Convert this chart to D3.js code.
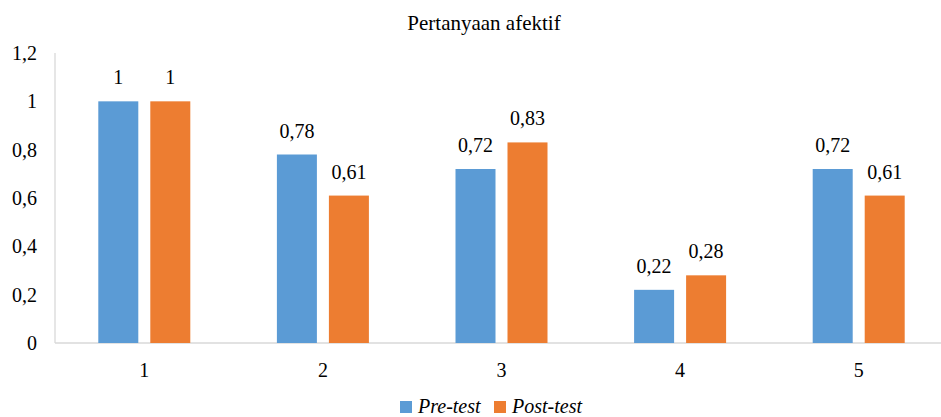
<!DOCTYPE html>
<html>
<head>
<meta charset="utf-8">
<script src="https://cdn.jsdelivr.net/npm/d3@7"></script>
<style>
  body { margin: 0; background: #fff; overflow: hidden; }
</style>
</head>
<body>
<div id="chart"></div>
<script>
const categories = ["1", "2", "3", "4", "5"];
const seriesNames = ["Pre-test", "Post-test"];
const preTest = [1, 0.78, 0.72, 0.22, 0.72];
const postTest = [1, 0.61, 0.83, 0.28, 0.61];
const yTicks = [0, 0.2, 0.4, 0.6, 0.8, 1, 1.2];
const colors = ["#5b9bd5", "#ed7d31"];

const width = 941, height = 417;
const margin = { top: 53, right: 0, bottom: 74, left: 55 };
const innerWidth = width - margin.left - margin.right;
const innerHeight = height - margin.top - margin.bottom;
const font = "'Liberation Serif', 'DejaVu Serif', 'Times New Roman', serif";

const fmt = v => String(v).replace(".", ",");

const svg = d3.select("#chart").append("svg")
  .attr("width", width)
  .attr("height", height)
  .style("display", "block")
  .style("font-family", font);

// Title
svg.append("text")
  .attr("x", 484)
  .attr("y", 30)
  .attr("text-anchor", "middle")
  .style("font-size", "21px")
  .text("Pertanyaan afektif");

const chart = svg.append("g")
  .attr("transform", `translate(${margin.left},${margin.top})`);

// band step ~178.6 px, last band slightly past the right edge like the reference
const x = d3.scaleBand().domain(categories).range([0, 893]);
const y = d3.scaleLinear().domain([0, 1.2]).range([innerHeight, 0]);

const barW = 40, gap = 12;
const x1 = i => x.bandwidth() / 2 - (barW + gap / 2) + i * (barW + gap);

// Y axis labels
chart.selectAll("text.y-label")
  .data(yTicks)
  .enter()
  .append("text")
  .attr("class", "y-label")
  .attr("x", -18)
  .attr("y", d => y(d) + 7)
  .attr("text-anchor", "end")
  .style("font-size", "20px")
  .text(fmt);

// axis lines
chart.append("line")
  .attr("x1", 0).attr("x2", 0)
  .attr("y1", y(1.2)).attr("y2", y(0))
  .attr("stroke", "#d9d9d9").attr("stroke-width", 1.3);
chart.append("line")
  .attr("x1", 0).attr("x2", innerWidth)
  .attr("y1", y(0)).attr("y2", y(0))
  .attr("stroke", "#d9d9d9").attr("stroke-width", 1.3);

// flat list of bars
const bars = [];
categories.forEach((c, ci) => {
  [preTest[ci], postTest[ci]].forEach((v, i) => bars.push({ cat: c, v, i }));
});

chart.selectAll("rect.bar")
  .data(bars)
  .enter()
  .append("rect")
  .attr("class", "bar")
  .attr("x", d => x(d.cat) + x1(d.i))
  .attr("y", d => y(d.v))
  .attr("width", barW)
  .attr("height", d => y(0) - y(d.v))
  .attr("fill", d => colors[d.i]);

chart.selectAll("text.val")
  .data(bars)
  .enter()
  .append("text")
  .attr("class", "val")
  .attr("x", d => x(d.cat) + x1(d.i) + barW / 2)
  .attr("y", d => y(d.v) - 17)
  .attr("text-anchor", "middle")
  .style("font-size", "20px")
  .text(d => fmt(d.v));

// category labels
chart.selectAll("text.x-label")
  .data(categories)
  .enter()
  .append("text")
  .attr("class", "x-label")
  .attr("x", d => x(d) + x.bandwidth() / 2)
  .attr("y", innerHeight + 34)
  .attr("text-anchor", "middle")
  .style("font-size", "20px")
  .text(d => d);

// legend
const legendX = [400, 494];
const legend = svg.selectAll("g.legend")
  .data(seriesNames)
  .enter()
  .append("g")
  .attr("class", "legend")
  .attr("transform", (d, i) => `translate(${legendX[i]},401)`);
legend.append("rect")
  .attr("width", 12).attr("height", 12)
  .attr("fill", (d, i) => colors[i]);
legend.append("text")
  .attr("x", 18)
  .attr("y", 12)
  .style("font-size", "20px")
  .style("font-style", "italic")
  .text(d => d);
</script>
</body>
</html>
